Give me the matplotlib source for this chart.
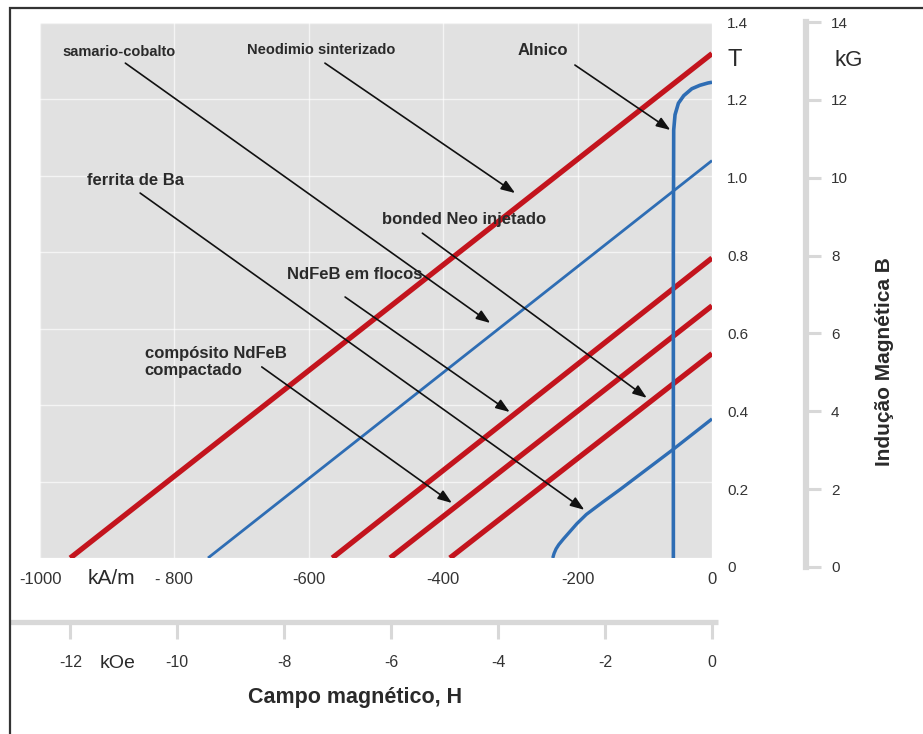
import numpy as np
import matplotlib.pyplot as plt

plt.rcParams['font.family'] = ['Liberation Sans', 'DejaVu Sans']
NARROW = ['Liberation Sans Narrow', 'Liberation Sans', 'DejaVu Sans']

# retas de desmagnetização (H em kA/m, B em T)
reta_br = [1.32, 0.785, 0.66, 0.535]
reta_hc = [-955, -565, -479, -390]

# samario-cobalto
smco_br = 1.04
smco_hc = -750

# ferrita de Ba (com joelho)
ferrita_h = [-237, -235, -232, -228, -221, -211, -201, -187, -162, -137, -58, 0]
ferrita_b = [0, 0.012, 0.024, 0.035, 0.05, 0.07, 0.09, 0.114, 0.147, 0.179, 0.284, 0.364]

# Alnico
alnico_h = [0, -6, -18, -30, -42, -50, -55, -57, -57.5, -57.5]
alnico_b = [1.245, 1.243, 1.237, 1.228, 1.21, 1.19, 1.16, 1.12, 0.8, 0]

# rótulos: texto, posição do texto, início da seta, ponta da seta, tamanho
rotulos = [
    ('samario-cobalto', (-966, 1.324), (-873, 1.295), (-330, 0.615), 10.5),
    ('Neodimio sinterizado', (-692, 1.329), (-576, 1.295), (-293, 0.955), 10.5),
    ('Alnico', (-289, 1.329), (-204, 1.290), (-62, 1.12), 12),
    ('ferrita de Ba', (-930, 0.989), (-851, 0.955), (-190, 0.126), 12),
    ('bonded Neo injetado', (-491, 0.885), (-431, 0.850), (-97, 0.419), 12),
    ('NdFeB em flocos', (-632, 0.741), (-546, 0.683), (-301, 0.382), 12),
    ('compósito NdFeB\ncompactado', (-844, 0.513), (-670, 0.500), (-387, 0.144), 12),
]

x_ticks = [-1000, -800, -600, -400, -200, 0]
x_labels = ['-1000', '- 800', '-600', '-400', '-200', '0']
t_ticks = [0, 0.2, 0.4, 0.6, 0.8, 1.0, 1.2, 1.4]
t_labels = ['0', '0.2', '0.4', '0.6', '0.8', '1.0', '1.2', '1.4']
kg_ticks = [0, 2, 4, 6, 8, 10, 12, 14]
koe_ticks = [-12, -10, -8, -6, -4, -2, 0]

W, H = 923, 734
VERMELHO = '#c3141d'
AZUL = '#2e6db4'
TEXTO = '#2a2a2a'

fig = plt.figure(figsize=(W / 100, H / 100), dpi=100)
fig.patch.set_facecolor('white')

# moldura externa
fig.add_artist(plt.Rectangle((10 / W, -0.1), 1.2, (H - 8) / H + 0.1, fill=False,
                             edgecolor='#333333', lw=1.6, transform=fig.transFigure))

# eixo principal
ax = fig.add_axes([40 / W, (H - 558) / H, 672 / W, 535 / H])
ax.set_facecolor('#e1e1e1')
ax.set_xlim(-1000, 0)
ax.set_ylim(0, 1.4)
for s in ax.spines.values():
    s.set_visible(False)
ax.set_xticks(x_ticks)
ax.set_xticklabels(x_labels)
ax.set_yticks(t_ticks)
ax.tick_params(axis='x', length=0, pad=10, labelsize=12, labelcolor='#333333')
ax.tick_params(axis='y', length=0, labelleft=False)
ax.grid(True, color='white', lw=1.0, alpha=0.65)
ax.set_axisbelow(True)

# curvas
ax.plot([smco_hc, 0], [0, smco_br], color=AZUL, lw=2.0, solid_capstyle='butt')
for br, hc in zip(reta_br, reta_hc):
    ax.plot([hc, 0], [0, br], color=VERMELHO, lw=3.8, solid_capstyle='butt')
ax.plot(ferrita_h, ferrita_b, color=AZUL, lw=2.4, solid_capstyle='butt',
        solid_joinstyle='round')
ax.plot(alnico_h, alnico_b, color=AZUL, lw=2.6, solid_capstyle='butt',
        solid_joinstyle='round')

# rótulos e setas
for texto, pos, ini, ponta, tam in rotulos:
    ax.text(pos[0], pos[1], texto, fontsize=tam, fontweight='bold', color=TEXTO,
            ha='left', va='center', linespacing=1.1)
    ax.annotate('', xy=ponta, xytext=ini,
                arrowprops=dict(arrowstyle='-|>,head_length=0.6,head_width=0.22',
                                color='#111111', lw=1.2, mutation_scale=14,
                                shrinkA=0, shrinkB=0))

# escala T à direita
axT = fig.add_axes([712 / W, (H - 567) / H, 1 / W, 545 / H])
axT.set_ylim(0, 1.4)
axT.set_xticks([])
for s in axT.spines.values():
    s.set_visible(False)
axT.patch.set_visible(False)
axT.yaxis.tick_right()
axT.set_yticks(t_ticks)
axT.set_yticklabels(t_labels, family=NARROW)
axT.tick_params(axis='y', length=0, pad=10, labelsize=11, labelcolor='#333333')
fig.text(727 / W, 1 - 60 / H, 'T', fontsize=17, color=TEXTO, ha='left', va='center',
         family=NARROW)

# escala kG
axK = fig.add_axes([800 / W, (H - 567) / H, 6 / W, 545 / H])
axK.set_ylim(0, 14)
axK.set_xticks([])
for nome in ['left', 'top', 'bottom']:
    axK.spines[nome].set_visible(False)
axK.spines['right'].set_color('#d8d8d8')
axK.spines['right'].set_linewidth(4.5)
axK.patch.set_visible(False)
axK.yaxis.tick_right()
axK.set_yticks(kg_ticks)
axK.set_yticklabels([str(v) for v in kg_ticks], family=NARROW)
axK.tick_params(axis='y', direction='out', length=11, width=2.2, color='#d8d8d8',
                pad=7, labelsize=11, labelcolor='#333333')
fig.text(835 / W, 1 - 60 / H, 'kG', fontsize=16, color=TEXTO, ha='left', va='center',
         family=NARROW)
fig.text(885 / W, 1 - 362 / H, 'Indução Magnética B', rotation=90, fontsize=15,
         fontweight='bold', color=TEXTO, ha='center', va='center')

# escala kOe
axO = fig.add_axes([40 / W, (H - 622) / H, 672 / W, 0.0001])
axO.set_xlim(-1000 / 79.577, 0)
axO.set_yticks([])
for s in axO.spines.values():
    s.set_visible(False)
axO.patch.set_visible(False)
axO.plot([-0.045, 1.009], [0.5, 0.5], transform=axO.transAxes, clip_on=False,
         color='#d8d8d8', lw=3.8, solid_capstyle='butt')
axO.set_xticks(koe_ticks)
axO.set_xticklabels([str(v) for v in koe_ticks], family=NARROW)
axO.tick_params(axis='x', direction='out', length=12, width=2.2, color='#d8d8d8',
                pad=12, labelsize=11.5, labelcolor='#333333')

fig.text(111 / W, 1 - 579 / H, 'kA/m', fontsize=15, color=TEXTO, ha='center', va='center')
fig.text(118 / W, 1 - 663 / H, 'kOe', fontsize=14, color=TEXTO, ha='center', va='center')
fig.text(355 / W, 1 - 697 / H, 'Campo magnético, H', fontsize=15.5, fontweight='bold',
         color=TEXTO, ha='center', va='center')

fig.savefig('out.png', dpi=100)
